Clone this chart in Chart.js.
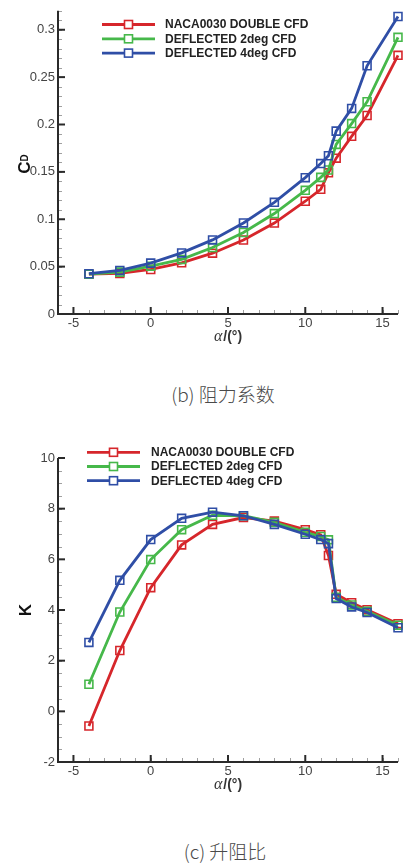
<!DOCTYPE html>
<html>
<head>
<meta charset="utf-8">
<script src="https://cdn.jsdelivr.net/npm/chart.js@4.4.1/dist/chart.umd.min.js"></script>
<style>
  body { margin: 0; background: #fff; width: 408px; height: 865px; position: relative; overflow: hidden; }
  canvas { position: absolute; left: 0; }
  #cdChart { top: 0; }
  #kChart { top: 430px; }
  .caption {
    position: absolute; width: 408px; text-align: center;
    font-family: "Noto Sans CJK SC", sans-serif; font-weight: 300;
    font-size: 19px; line-height: 22px; color: #4a4a4a;
  }
</style>
</head>
<body>
<canvas id="cdChart" width="408" height="350"></canvas>
<div class="caption" style="left:19px; top:383px;">(b) 阻力系数</div>
<canvas id="kChart" width="408" height="370"></canvas>
<div class="caption" style="left:21px; top:840px;">(c) 升阻比</div>

<script>
// angle of attack, deg
const alpha = [-4, -2, 0, 2, 4, 6, 8, 10, 11, 11.5, 12, 13, 14, 16];

// drag coefficient
const cdBase   = [0.042, 0.0428, 0.047, 0.054, 0.0642, 0.078, 0.096, 0.119, 0.1316, 0.149, 0.1645, 0.1875, 0.2095, 0.273];
const cdDefl2  = [0.042, 0.0442, 0.0505, 0.0576, 0.0702, 0.086, 0.106, 0.1305, 0.1442, 0.152, 0.179, 0.201, 0.224, 0.292];
const cdDefl4  = [0.0425, 0.046, 0.0537, 0.0645, 0.0782, 0.0961, 0.1179, 0.1439, 0.1588, 0.167, 0.193, 0.217, 0.262, 0.314];

// lift/drag ratio
const kBase  = [-0.58, 2.40, 4.88, 6.57, 7.38, 7.65, 7.51, 7.17, 6.97, 6.15, 4.62, 4.29, 4.01, 3.46];
const kDefl2 = [1.07, 3.92, 5.99, 7.17, 7.74, 7.72, 7.46, 7.07, 6.90, 6.77, 4.50, 4.20, 3.95, 3.40];
const kDefl4 = [2.72, 5.17, 6.78, 7.62, 7.86, 7.72, 7.38, 6.99, 6.78, 6.62, 4.45, 4.12, 3.90, 3.30];

const seriesNames = ['NACA0030 DOUBLE CFD', 'DEFLECTED 2deg CFD', 'DEFLECTED 4deg CFD'];

const xTicks  = [-5, 0, 5, 10, 15];
const cdTicks = [0, 0.05, 0.1, 0.15, 0.2, 0.25, 0.3];
const kTicks  = [-2, 0, 2, 4, 6, 8, 10];

const colors = ['#d6262b', '#46b84a', '#2f4ea6'];

function makeSets(lists) {
  return lists.map((vals, i) => ({
    label: seriesNames[i],
    data: alpha.map((a, j) => ({x: a, y: vals[j]})),
    borderColor: colors[i],
    backgroundColor: 'rgba(0,0,0,0)',
    borderWidth: 2.8,
    pointStyle: 'rect',
    pointRadius: 5.6,
    pointBorderWidth: 1.6,
    pointBorderColor: colors[i],
    pointBackgroundColor: 'rgba(0,0,0,0)',
    tension: 0,
    clip: false,
    order: 3 - i
  }));
}

// inward major/minor ticks, axis lines, titles and the line+marker legend
const axisDecor = {
  id: 'axisDecor',
  afterDraw(chart, args, o) {
    const ctx = chart.ctx;
    const a = chart.chartArea;
    const x = chart.scales.x, y = chart.scales.y;
    ctx.save();

    ctx.strokeStyle = '#a0a0a0';
    ctx.lineWidth = 1;
    let n = Math.round((x.max - x.min) / o.xMinor);
    for (let i = 0; i <= n; i++) {
      const px = Math.round(x.getPixelForValue(x.min + i * o.xMinor)) + 0.5;
      ctx.beginPath(); ctx.moveTo(px, a.bottom); ctx.lineTo(px, a.bottom - 4); ctx.stroke();
    }
    n = Math.round((y.max - y.min) / o.yMinor);
    for (let i = 0; i <= n; i++) {
      const py = Math.round(y.getPixelForValue(y.min + i * o.yMinor)) + 0.5;
      ctx.beginPath(); ctx.moveTo(a.left, py); ctx.lineTo(a.left + 4, py); ctx.stroke();
    }

    ctx.strokeStyle = '#2a2a2a';
    ctx.lineWidth = 2;
    x.ticks.forEach(t => {
      const px = x.getPixelForValue(t.value);
      ctx.beginPath(); ctx.moveTo(px, a.bottom); ctx.lineTo(px, a.bottom - 7); ctx.stroke();
    });
    y.ticks.forEach(t => {
      const py = y.getPixelForValue(t.value);
      ctx.beginPath(); ctx.moveTo(a.left, py); ctx.lineTo(a.left + 7, py); ctx.stroke();
    });

    ctx.beginPath();
    ctx.moveTo(a.left, a.top);
    ctx.lineTo(a.left, a.bottom);
    ctx.lineTo(a.right, a.bottom);
    ctx.stroke();

    // x title: α/(°)
    ctx.fillStyle = '#333';
    ctx.textBaseline = 'alphabetic';
    ctx.font = 'italic 16px "Liberation Serif"';
    const wa = ctx.measureText('α').width;
    ctx.font = 'bold 14px "Liberation Sans"';
    const wr = ctx.measureText('/(°)').width;
    const x0 = o.xTitle[0] - (wa + wr + 1) / 2;
    ctx.font = 'italic 16px "Liberation Serif"';
    ctx.fillText('α', x0, o.xTitle[1] + 5);
    ctx.font = 'bold 14px "Liberation Sans"';
    ctx.fillText('/(°)', x0 + wa + 1, o.xTitle[1] + 5);

    // y title, rotated
    ctx.save();
    ctx.translate(o.yTitle[0], o.yTitle[1]);
    ctx.rotate(-Math.PI / 2);
    ctx.fillStyle = '#111';
    ctx.textBaseline = 'middle';
    ctx.font = 'bold 17px "Liberation Sans"';
    const wMain = ctx.measureText(o.yMain).width;
    let wSub = 0;
    if (o.ySub) {
      ctx.font = 'bold 10px "Liberation Sans"';
      wSub = ctx.measureText(o.ySub).width;
    }
    const s0 = -(wMain + wSub) / 2;
    ctx.font = 'bold 17px "Liberation Sans"';
    ctx.fillText(o.yMain, s0, 0);
    if (o.ySub) {
      ctx.font = 'bold 10px "Liberation Sans"';
      ctx.fillText(o.ySub, s0 + wMain, 0);
    }
    ctx.restore();

    // legend
    const L = o.legend;
    ctx.font = 'bold 12px "Liberation Sans"';
    ctx.textBaseline = 'middle';
    chart.data.datasets.forEach((ds, i) => {
      const ly = L.y + i * L.gap;
      ctx.strokeStyle = ds.borderColor;
      ctx.lineWidth = 2.8;
      ctx.beginPath(); ctx.moveTo(L.x, ly); ctx.lineTo(L.x + L.len, ly); ctx.stroke();
      ctx.lineWidth = 1.6;
      const mx = L.x + L.len / 2;
      ctx.fillStyle = '#fff';
      ctx.fillRect(mx - 4, ly - 4, 8, 8);
      ctx.strokeRect(mx - 4, ly - 4, 8, 8);
      ctx.fillStyle = '#222';
      ctx.fillText(ds.label, L.textX, ly + 0.5);
    });

    ctx.restore();
  }
};

function makeChart(id, sets, yMin, yMax, yTicks, yFmt, plotTop, plotBottom, decor) {
  const canvas = document.getElementById(id);
  const xHeight = canvas.height - plotBottom;
  return new Chart(canvas.getContext('2d'), {
    type: 'line',
    data: { datasets: sets },
    options: {
      responsive: false,
      animation: false,
      layout: { padding: { top: plotTop, right: 10, left: 0, bottom: 0 } },
      plugins: { legend: { display: false }, tooltip: { enabled: false }, axisDecor: decor },
      scales: {
        x: {
          type: 'linear', min: -6, max: 16,
          grid: { display: false, drawTicks: false }, border: { display: false },
          afterBuildTicks: s => { s.ticks = xTicks.map(v => ({value: v})); },
          afterFit: s => { s.height = xHeight; },
          ticks: { padding: 2, color: '#444', font: { family: 'Liberation Sans', size: 13 }, maxRotation: 0 }
        },
        y: {
          type: 'linear', min: yMin, max: yMax,
          grid: { display: false, drawTicks: false }, border: { display: false },
          afterBuildTicks: s => { s.ticks = yTicks.map(v => ({value: v})); },
          afterFit: s => { s.width = 58; },
          ticks: { padding: 3, color: '#444', font: { family: 'Liberation Sans', size: 13 }, callback: yFmt }
        }
      }
    },
    plugins: [axisDecor]
  });
}

makeChart('cdChart', makeSets([cdBase, cdDefl2, cdDefl4]), 0, 0.32, cdTicks,
  v => String(+v.toFixed(2)), 10, 314,
  { xMinor: 1, yMinor: 0.01, xTitle: [228, 336], yTitle: [25, 164], yMain: 'C', ySub: 'D',
    legend: { x: 102, y: 24.5, gap: 14.3, len: 53, textX: 165 } });

makeChart('kChart', makeSets([kBase, kDefl2, kDefl4]), -2, 10, kTicks,
  v => String(v), 28, 332,
  { xMinor: 1, yMinor: 0.5, xTitle: [228, 354], yTitle: [26, 180], yMain: 'K', ySub: '',
    legend: { x: 87, y: 22.3, gap: 14.2, len: 53, textX: 151 } });
</script>
</body>
</html>
